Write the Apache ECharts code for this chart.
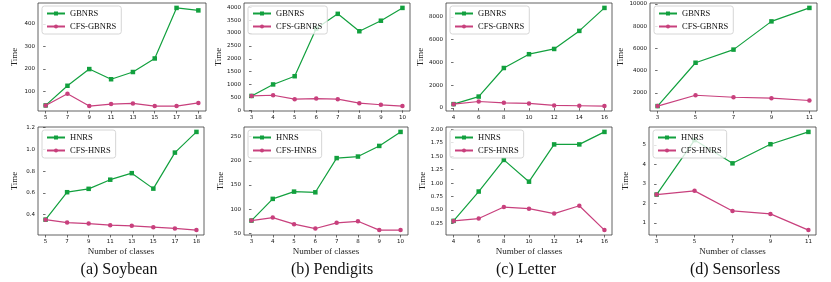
<!DOCTYPE html>
<html>
<head>
<meta charset="utf-8">
<script src="https://cdn.jsdelivr.net/npm/echarts@6/dist/echarts.min.js"></script>
<style>
html,body{margin:0;padding:0;background:#fff;}
#chart{width:831px;height:282px;}
</style>
</head>
<body>
<div id="chart"></div>
<script>
// ---- Data ----
const catsSoybean = ['5','7','9','11','13','15','17','18'];
const soyGBNRS     = [39, 126, 200, 155, 187, 247, 471, 460];
const soyCFSGBNRS  = [39, 91, 36, 45, 48, 36, 36, 50];
const soyHNRS      = [0.355, 0.607, 0.638, 0.722, 0.782, 0.640, 0.971, 1.161];
const soyCFSHNRS   = [0.355, 0.328, 0.319, 0.304, 0.298, 0.286, 0.274, 0.259];

const catsPendigits = ['3','4','5','6','7','8','9','10'];
const penGBNRS     = [560, 1006, 1325, 3172, 3745, 3070, 3478, 3975];
const penCFSGBNRS  = [560, 586, 433, 459, 433, 280, 217, 166];
const penHNRS      = [76.5, 121.4, 136.4, 135, 205.8, 209, 231, 260];
const penCFSHNRS   = [76.5, 82.7, 69, 60, 71.8, 75, 56.8, 56.8];

const catsLetter = ['4','6','8','10','12','14','16'];
const letGBNRS     = [345, 1007, 3511, 4720, 5180, 6763, 8778];
const letCFSGBNRS  = [345, 576, 460, 403, 230, 201, 173];
const letHNRS      = [0.299, 0.844, 1.431, 1.027, 1.719, 1.719, 1.951];
const letCFSHNRS   = [0.299, 0.342, 0.556, 0.525, 0.434, 0.580, 0.128];

const catsSensorless = ['3','5','7','9','11'];
const senGBNRS     = [819, 4716, 5897, 8435, 9646];
const senCFSGBNRS  = [819, 1793, 1616, 1528, 1321];
const senHNRS      = [2.45, 5.24, 4.05, 5.03, 5.66];
const senCFSHNRS   = [2.45, 2.64, 1.61, 1.46, 0.63];

// Tick labels
const ticksSoyTop = ['100','200','300','400'];
const ticksSoyBot = ['0.4','0.6','0.8','1.0','1.2'];
const ticksPenTop = ['0','500','1000','1500','2000','2500','3000','3500','4000'];
const ticksPenBot = ['50','100','150','200','250'];
const ticksLetTop = ['0','2000','4000','6000','8000'];
const ticksLetBot = ['0.25','0.50','0.75','1.00','1.25','1.50','1.75','2.00'];
const ticksSenTop = ['2000','4000','6000','8000','10000'];
const ticksSenBot = ['1','2','3','4','5'];

const captions = ['(a) Soybean','(b) Pendigits','(c) Letter','(d) Sensorless'];
const names1 = ['GBNRS','CFS-GBNRS'];
const names2 = ['HNRS','CFS-HNRS'];

// ---- Layout / style ----
const GREEN = '#12a03e';
const PINK = '#c8407d';
const SERIF = 'Liberation Serif';
const SANS = 'DejaVu Sans';

const panels = [
  {box:[38,3,206,111], cats:catsSoybean, a:soyGBNRS, b:soyCFSGBNRS, ticks:ticksSoyTop, names:names1, bottom:false},
  {box:[244,3,410,111], cats:catsPendigits, a:penGBNRS, b:penCFSGBNRS, ticks:ticksPenTop, names:names1, bottom:false},
  {box:[446,3,612,111], cats:catsLetter, a:letGBNRS, b:letCFSGBNRS, ticks:ticksLetTop, names:names1, bottom:false},
  {box:[650,3,817,111], cats:catsSensorless, a:senGBNRS, b:senCFSGBNRS, ticks:ticksSenTop, names:names1, bottom:false},
  {box:[38,127,204,235], cats:catsSoybean, a:soyHNRS, b:soyCFSHNRS, ticks:ticksSoyBot, names:names2, bottom:true},
  {box:[244,127,408,235], cats:catsPendigits, a:penHNRS, b:penCFSHNRS, ticks:ticksPenBot, names:names2, bottom:true},
  {box:[446,127,612,235], cats:catsLetter, a:letHNRS, b:letCFSHNRS, ticks:ticksLetBot, names:names2, bottom:true},
  {box:[649,127,816,235], cats:catsSensorless, a:senHNRS, b:senCFSHNRS, ticks:ticksSenBot, names:names2, bottom:true}
];

const grid = [], xAxis = [], yAxis = [], series = [], legend = [];

panels.forEach((p, i) => {
  const [x0, y0, x1, y1] = p.box;
  grid.push({left:x0, top:y0, width:x1-x0, height:y1-y0, show:true,
    borderColor:'#3a3a3a', borderWidth:0.8, backgroundColor:'transparent', containLabel:false});
  const n = p.cats.length;
  const pad = 0.05*(n-1);
  const idx = p.cats.map((c,k)=>k);
  xAxis.push({
    type:'value', gridIndex:i, min:-pad, max:(n-1)+pad,
    axisLine:{show:false},
    splitLine:{show:false},
    axisTick:{show:true, customValues:idx, length:2.5, inside:false, lineStyle:{color:'#333', width:0.7}},
    axisLabel:{show:true, customValues:idx, formatter:(v)=>p.cats[Math.round(v)], fontFamily:SANS, fontSize:5.5, color:'#111', margin:4},
    name: p.bottom ? 'Number of classes' : '',
    nameLocation:'middle', nameGap:12,
    nameTextStyle:{fontFamily:SERIF, fontSize:9, color:'#222'}
  });
  const all = p.a.concat(p.b);
  const mn = Math.min(...all), mx = Math.max(...all);
  const r = mx - mn;
  const tickVals = p.ticks.map(Number);
  yAxis.push({
    type:'value', gridIndex:i, min:mn-0.05*r, max:mx+0.05*r,
    axisLine:{show:false},
    splitLine:{show:false},
    axisTick:{show:true, customValues:tickVals, length:2.5, lineStyle:{color:'#333', width:0.7}},
    axisLabel:{show:true, customValues:tickVals,
      formatter:(v)=>{const k=tickVals.findIndex(t=>Math.abs(t-v)<1e-6*Math.max(1,Math.abs(t))); return k>=0?p.ticks[k]:'';},
      fontFamily:SANS, fontSize:5.5, color:'#111', margin:3},
    name:'Time', nameLocation:'middle', nameGap:19, nameRotate:90,
    nameTextStyle:{fontFamily:SERIF, fontSize:9, color:'#222'}
  });
  [[p.names[0], p.a, GREEN, 'rect', 4.5], [p.names[1], p.b, PINK, 'circle', 4.5]].forEach(([nm, vals, col, sym, sz]) => {
    series.push({
      type:'line', name:nm, xAxisIndex:i, yAxisIndex:i,
      data: vals.map((v,k)=>[k,v]),
      symbol:sym, symbolSize:sz, showSymbol:true,
      lineStyle:{color:col, width:1.2},
      itemStyle:{color:col},
      animation:false, silent:true, z: nm.startsWith('CFS') ? 3 : 2
    });
  });
  legend.push({
    data:p.names, orient:'vertical', left:x0+4, top:y0+3,
    itemWidth:18, itemHeight:5, itemGap:4,
    padding:[3,5,3,4],
    backgroundColor:'rgba(255,255,255,0.8)', borderColor:'#cccccc', borderWidth:0.8, borderRadius:2.5,
    textStyle:{fontFamily:SERIF, fontSize:8.5, color:'#111'},
    selectedMode:false
  });
});

const captionX = [114, 327, 521, 730];
const title = captions.map((c,i)=>({
  text:c, left:captionX[i], top:257, textAlign:'center',
  textStyle:{fontFamily:SERIF, fontSize:16, fontWeight:'normal', color:'#111'}
}));

const chart = echarts.init(document.getElementById('chart'), null, {renderer:'canvas'});
chart.setOption({
  animation:false,
  backgroundColor:'#ffffff',
  title, grid, xAxis, yAxis, series, legend
});
</script>
</body>
</html>
